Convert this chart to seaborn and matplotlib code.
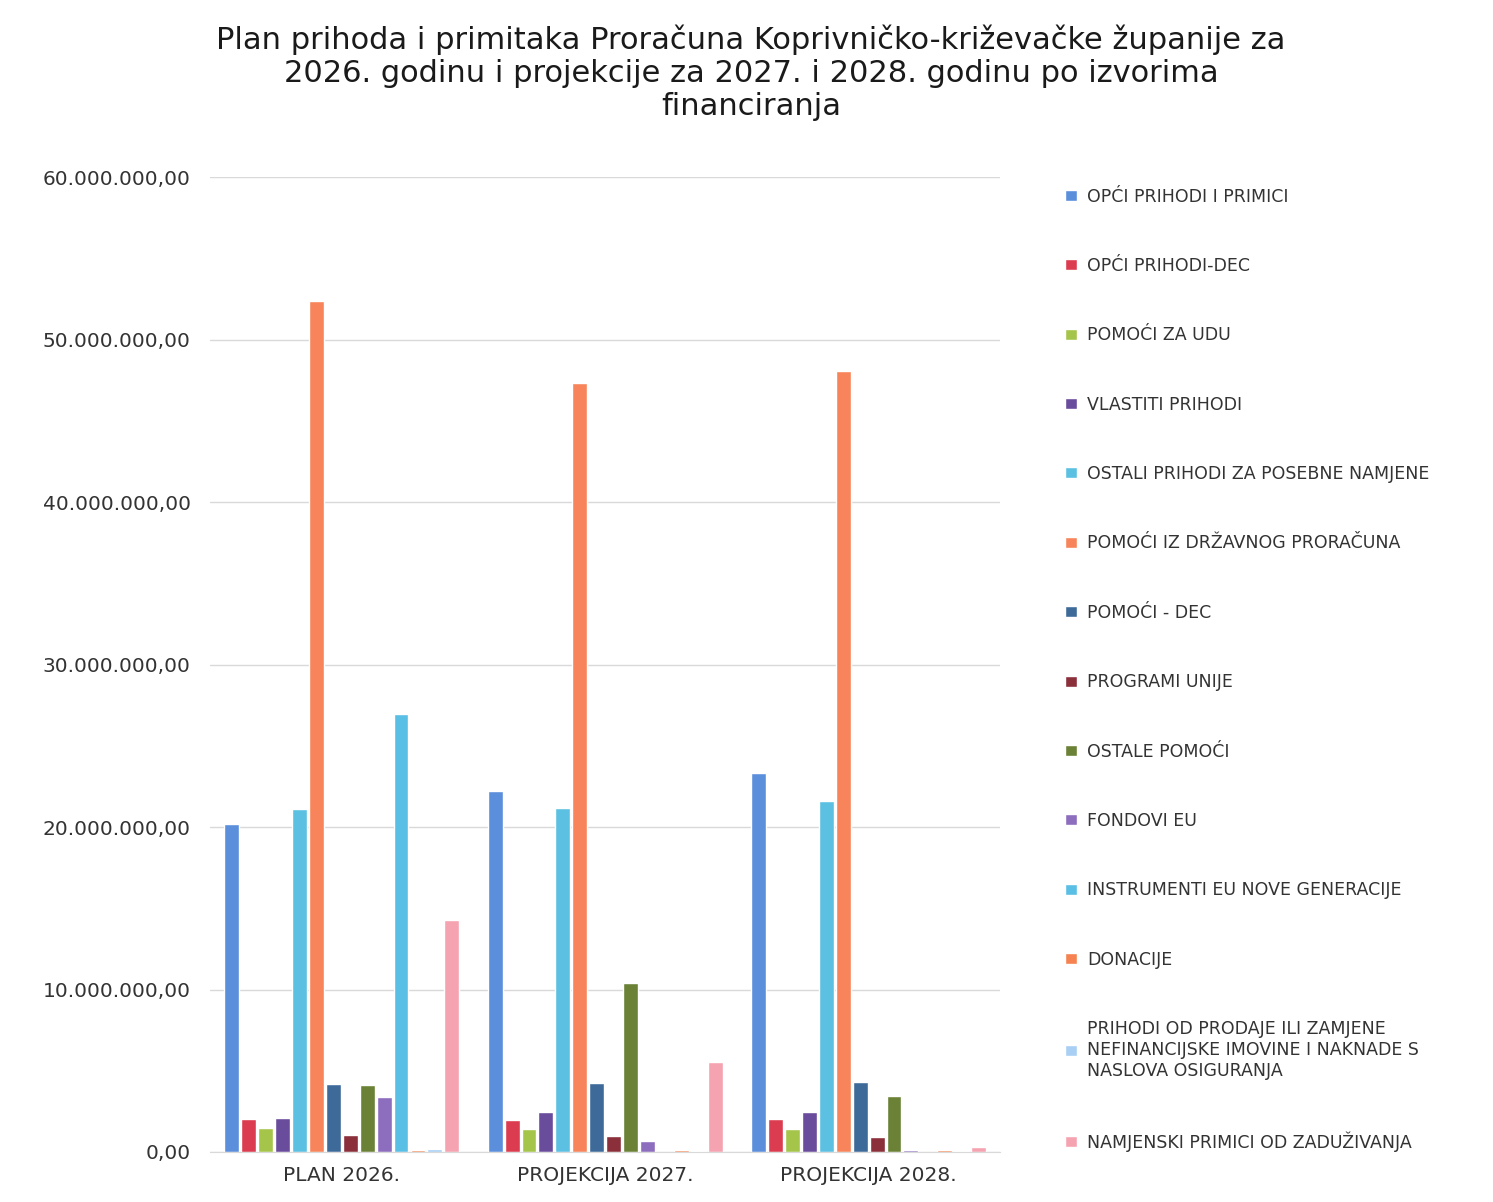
import pandas as pd
import seaborn as sns
import matplotlib.pyplot as plt
from matplotlib.ticker import FuncFormatter

# data (EUR)
years = ['PLAN 2026.', 'PROJEKCIJA 2027.', 'PROJEKCIJA 2028.']
sources = [
    'OPĆI PRIHODI I PRIMICI',
    'OPĆI PRIHODI-DEC',
    'POMOĆI ZA UDU',
    'VLASTITI PRIHODI',
    'OSTALI PRIHODI ZA POSEBNE NAMJENE',
    'POMOĆI IZ DRŽAVNOG PRORAČUNA',
    'POMOĆI - DEC',
    'PROGRAMI UNIJE',
    'OSTALE POMOĆI',
    'FONDOVI EU',
    'INSTRUMENTI EU NOVE GENERACIJE',
    'DONACIJE',
    'PRIHODI OD PRODAJE ILI ZAMJENE\nNEFINANCIJSKE IMOVINE I NAKNADE S\nNASLOVA OSIGURANJA',
    'NAMJENSKI PRIMICI OD ZADUŽIVANJA',
]
plan_2026 = [20200000, 2030000, 1480000, 2090000, 21100000, 52400000, 4180000,
             1050000, 4120000, 3380000, 26950000, 120000, 200000, 14280000]
proj_2027 = [22200000, 1970000, 1420000, 2460000, 21170000, 47300000, 4270000,
             960000, 10380000, 700000, 0, 100000, 60000, 5560000]
proj_2028 = [23300000, 2030000, 1430000, 2480000, 21600000, 48060000, 4310000,
             940000, 3460000, 100000, 0, 100000, 60000, 300000]

colors = ['#5B8EDB', '#DC3C50', '#A4C54A', '#6A4C9C', '#5BC0E2', '#F7845A',
          '#3E6A9A', '#8B2F3A', '#6B8236', '#8D6DBE', '#5ABFE5', '#F58250',
          '#A9CFF5', '#F5A3B0']

rows = []
for yr, vals in zip(years, [plan_2026, proj_2027, proj_2028]):
    for src, v in zip(sources, vals):
        rows.append({'godina': yr, 'izvor': src, 'iznos': v})
df = pd.DataFrame(rows)

sns.set_style('white')
plt.rcParams['font.family'] = ['DejaVu Sans']

fig = plt.figure(figsize=(14.93, 12.02), dpi=100)
ax = fig.add_axes([0.1407, 0.0416, 0.5293, 0.8111])

sns.barplot(data=df, x='godina', y='iznos', hue='izvor', order=years,
            hue_order=sources, palette=colors, width=0.9, gap=0.12,
            saturation=1, ax=ax, legend=True)

ax.set_ylim(0, 60000000)
ax.set_yticks(range(0, 60000001, 10000000))
ax.yaxis.set_major_formatter(FuncFormatter(
    lambda v, p: f'{v:,.2f}'.replace(',', 'X').replace('.', ',').replace('X', '.')))
ax.set_xlim(-0.5, 2.5)
ax.grid(axis='y', color='#d9d9d9', linewidth=1)
ax.set_axisbelow(True)
for s in ['top', 'right', 'left']:
    ax.spines[s].set_visible(False)
ax.spines['bottom'].set_color('#d9d9d9')
ax.tick_params(axis='both', length=0, labelsize=14.5, colors='#333333')
ax.tick_params(axis='y', pad=14)
ax.tick_params(axis='x', pad=10)
ax.set_xlabel('')
ax.set_ylabel('')

handles, labels = ax.get_legend_handles_labels()
ax.get_legend().remove()
fig.legend(handles, labels, loc='upper left', bbox_to_anchor=(0.703, 0.857),
           frameon=False, fontsize=12.5, labelspacing=2.96, handlelength=0.7,
           handleheight=0.6, handletextpad=0.55, labelcolor='#333333')

fig.suptitle('Plan prihoda i primitaka Proračuna Koprivničko-križevačke županije za\n'
             '2026. godinu i projekcije za 2027. i 2028. godinu po izvorima\n'
             'financiranja', x=0.503, y=0.98, fontsize=22, color='#1a1a1a',
             linespacing=1.19)

fig.savefig('out.png', dpi=100)
